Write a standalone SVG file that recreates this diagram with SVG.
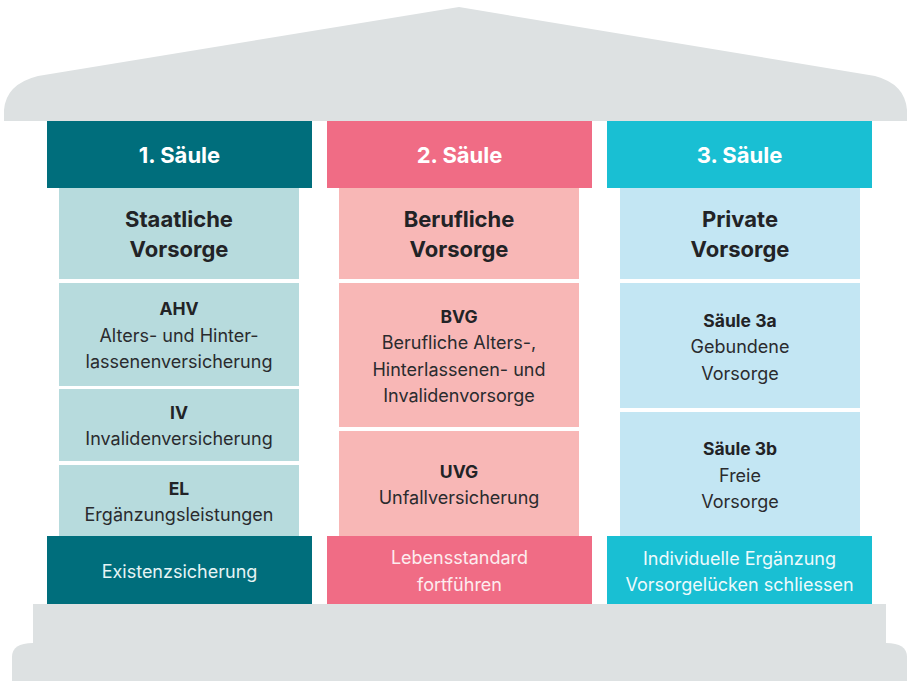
<svg xmlns="http://www.w3.org/2000/svg" width="909" height="681" viewBox="0 0 909 681">
<style>
.gray{fill:#dde1e2}
.t{font-family:Inter,"Noto Sans","Liberation Sans",sans-serif;text-anchor:middle}
.h{font-size:22px;font-weight:700;fill:#ffffff}
.b{font-size:22px;font-weight:700;fill:#222326}
.s{font-size:17.5px;font-weight:700;fill:#222326}
.r{font-size:18px;font-weight:400;fill:#2a2b2e}
.f{font-size:18px;font-weight:400;fill:#e6f4f5}
</style>
<g id="roof">
<path class="gray" d="M459 7 L875 76 Q905 84 907 110 L907 121 L4 121 L4 110 Q6 84 38 76 Z"/>
</g>
<g id="base">
<rect class="gray" x="33" y="604" width="853" height="40"/>
<path class="gray" d="M12 681 L12 657 Q12 643 33 643 L886 643 Q907 643 907 657 L907 681 Z"/>
</g>
<g id="connectors"></g>
<g id="col1">
<rect x="47" y="121" width="265" height="67" fill="#006e7c"/>
<text class="t h" x="179.5" y="163">1. Säule</text>
<rect x="59" y="188" width="240" height="91" fill="#b7dbdd"/>
<text class="t b" x="179" y="227">Staatliche</text>
<text class="t b" x="179" y="257">Vorsorge</text>
<rect x="59" y="283" width="240" height="103" fill="#b7dbdd"/>
<text class="t s" x="179" y="315">AHV</text>
<text class="t r" x="179" y="342">Alters- und Hinter-</text>
<text class="t r" x="179" y="368">lassenenversicherung</text>
<rect x="59" y="389" width="240" height="72" fill="#b7dbdd"/>
<text class="t s" x="179" y="419">IV</text>
<text class="t r" x="179" y="445">Invalidenversicherung</text>
<rect x="59" y="465" width="240" height="72" fill="#b7dbdd"/>
<text class="t s" x="179" y="495">EL</text>
<text class="t r" x="179" y="521">Ergänzungsleistungen</text>
<rect x="47" y="536" width="265" height="68" fill="#006e7c"/>
<text class="t f" x="179.5" y="578">Existenzsicherung</text>
</g>
<g id="col2">
<rect x="327" y="121" width="265" height="67" fill="#f06c85"/>
<text class="t h" x="459.5" y="163">2. Säule</text>
<rect x="339" y="188" width="240" height="91" fill="#f8b7b6"/>
<text class="t b" x="459" y="227">Berufliche</text>
<text class="t b" x="459" y="257">Vorsorge</text>
<rect x="339" y="283" width="240" height="144" fill="#f8b7b6"/>
<text class="t s" x="459" y="323">BVG</text>
<text class="t r" x="459" y="349">Berufliche Alters-,</text>
<text class="t r" x="459" y="376">Hinterlassenen- und</text>
<text class="t r" x="459" y="402">Invalidenvorsorge</text>
<rect x="339" y="431" width="240" height="106" fill="#f8b7b6"/>
<text class="t s" x="459" y="478">UVG</text>
<text class="t r" x="459" y="504">Unfallversicherung</text>
<rect x="327" y="536" width="265" height="68" fill="#f06c85"/>
<text class="t f" x="459.5" y="564" style="fill:#fdecef">Lebensstandard</text>
<text class="t f" x="459.5" y="591" style="fill:#fdecef">fortführen</text>
</g>
<g id="col3">
<rect x="607" y="121" width="265" height="67" fill="#19bfd3"/>
<text class="t h" x="739.5" y="163">3. Säule</text>
<rect x="620" y="188" width="240" height="91" fill="#c3e6f3"/>
<text class="t b" x="740" y="227">Private</text>
<text class="t b" x="740" y="257">Vorsorge</text>
<rect x="620" y="283" width="240" height="125" fill="#c3e6f3"/>
<text class="t s" x="740" y="327">Säule 3a</text>
<text class="t r" x="740" y="353">Gebundene</text>
<text class="t r" x="740" y="380">Vorsorge</text>
<rect x="620" y="412" width="240" height="125" fill="#c3e6f3"/>
<text class="t s" x="740" y="455">Säule 3b</text>
<text class="t r" x="740" y="482">Freie</text>
<text class="t r" x="740" y="508">Vorsorge</text>
<rect x="607" y="536" width="265" height="68" fill="#19bfd3"/>
<text class="t f" x="739.5" y="565" style="fill:#eefafc">Individuelle Ergänzung</text>
<text class="t f" x="739.5" y="591" style="fill:#eefafc">Vorsorgelücken schliessen</text>
</g>
</svg>
